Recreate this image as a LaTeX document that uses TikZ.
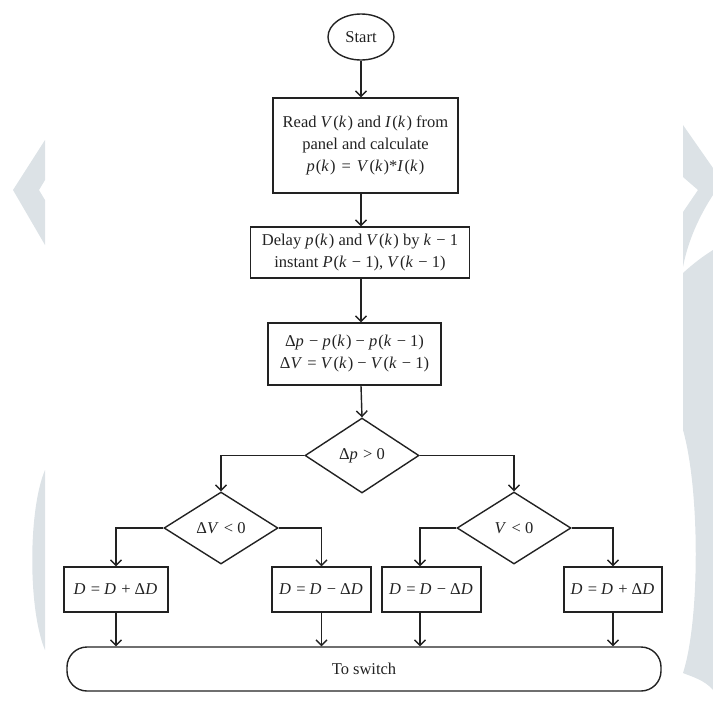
\documentclass[tikz,border=0pt]{standalone}
\usepackage{fontspec}
\setmainfont{Liberation Serif}
\usetikzlibrary{shapes.geometric,arrows.meta}
\definecolor{wm}{RGB}{220,226,230}
\definecolor{ink}{RGB}{34,34,34}
\newcommand{\mi}[1]{\textit{#1}\kern1.1pt\relax}
\newcommand{\eqsp}{\hspace{0.36em}}
\begin{document}
\begin{tikzpicture}[x=1pt,y=-1pt,
  txt/.style={text=ink,font=\fontsize{16.5}{22}\selectfont},
  proc/.style={txt,draw=ink,line width=1.4pt,rectangle,inner sep=0pt,align=center},
  dec/.style={txt,draw=ink,line width=1.4pt,diamond,aspect=1.5,inner sep=0pt,minimum width=114pt},
  term/.style={txt,draw=ink,line width=1.4pt,ellipse,inner sep=0pt},
  flow/.style={draw=ink,line width=1.4pt,-{Straight Barb[length=5.5pt,width=11pt]}},
  wmshape/.style={fill=wm,draw=none}]
\useasboundingbox (0,0) rectangle (713,705);
% watermark shapes
\fill[wmshape] (45,140) -- (13,190) -- (45,245) -- (45,200) -- (39,190) -- (45,180) -- cycle;
\fill[wmshape] (45,470) .. controls (28,510) and (28,610) .. (45,650) -- cycle;
\fill[wmshape] (683,125) -- (713,168) -- (713,195) .. controls (700,215) and (688,240) .. (683,267) -- (683,212) -- (698,190) -- (683,177) -- cycle;
\fill[wmshape] (683,273) .. controls (695,262) and (705,255) .. (713,250) -- (713,690) .. controls (705,680) and (690,676) .. (683,673) .. controls (700,620) and (700,490) .. (683,430) -- cycle;
% nodes
\node[term,minimum width=66pt,minimum height=46pt] (start) at (361,37) {Start};
\node[proc,minimum width=185pt,minimum height=95pt] (b1) at (365.5,145.5)
  {Read \mi{V}(\mi{k}) and \mi{I}(\mi{k}) from\\panel and calculate\\\mi{p}(\mi{k})\eqsp=\eqsp\mi{V}(\mi{k})*\mi{I}(\mi{k})};
\node[proc,minimum width=219pt,minimum height=51pt] (b2) at (360,252.5)
  {Delay \mi{p}(\mi{k}) and \mi{V}(\mi{k}) by \mi{k} − 1\\instant \mi{P}(\mi{k} − 1), \mi{V}(\mi{k} − 1)};
\node[proc,minimum width=173pt,minimum height=62pt] (b3) at (354.5,354)
  {Δ\mi{p} − \mi{p}(\mi{k}) − \mi{p}(\mi{k} − 1)\\Δ\mi{V} = \mi{V}(\mi{k}) − \mi{V}(\mi{k} − 1)};
\node[dec,minimum height=75pt] (d1) at (362,455.5) {Δ\mi{p} > 0};
\node[dec,minimum height=72pt] (d2) at (221,528) {Δ\mi{V} < 0};
\node[dec,minimum height=72pt] (d3) at (514,528) {\mi{V} < 0};
\node[proc,minimum width=104pt,minimum height=45pt] (b4) at (116,589.5) {\mi{D} = \mi{D} + Δ\mi{D}};
\node[proc,minimum width=99pt,minimum height=45pt] (b5) at (321.5,589.5) {\mi{D} = \mi{D} − Δ\mi{D}};
\node[proc,minimum width=99pt,minimum height=45pt] (b6) at (431.5,589.5) {\mi{D} = \mi{D} − Δ\mi{D}};
\node[proc,minimum width=98pt,minimum height=45pt] (b7) at (613,589.5) {\mi{D} = \mi{D} + Δ\mi{D}};
\node[proc,rounded corners=20pt,minimum width=594pt,minimum height=44pt] (sw) at (364,669) {To switch};
% connectors
\draw[flow] (start.south) -- (start.south |- b1.north);
\draw[flow] (b1.south -| start.south) -- (b2.north -| start.south);
\draw[flow] (b2.south -| start.south) -- (b3.north -| start.south);
\draw[flow] (b3.south -| start.south) -- (d1.north);
\draw[flow] (d1.west) -| (d2.north);
\draw[flow] (d1.east) -| (d3.north);
\draw[flow] (d2.west) -| (b4.north);
\draw[flow] (d2.east) -| (b5.north);
\draw[flow] (d3.west) -| ([xshift=-11.5pt]b6.north);
\draw[flow] (d3.east) -| (b7.north);
\draw[flow] (b4.south) -- (b4.south |- sw.north);
\draw[flow] (b5.south) -- (b5.south |- sw.north);
\draw[flow] ([xshift=-11.5pt]b6.south) -- ([xshift=-11.5pt]b6.south |- sw.north);
\draw[flow] (b7.south) -- (b7.south |- sw.north);
\end{tikzpicture}
\end{document}
